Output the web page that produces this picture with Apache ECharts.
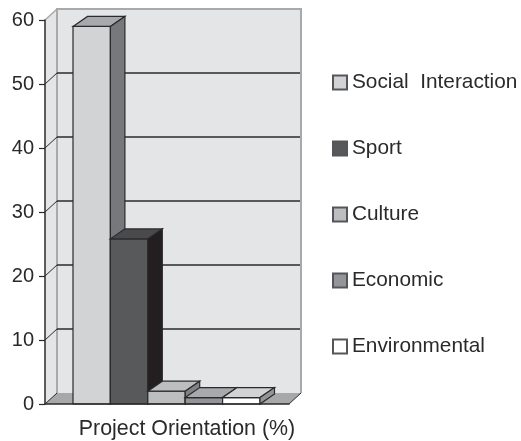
<!DOCTYPE html>
<html>
<head>
<meta charset="utf-8">
<style>
  html, body { margin: 0; padding: 0; background: #fff; }
  #chart { width: 521px; height: 441px; }
</style>
<script src="https://cdn.jsdelivr.net/npm/echarts@6/dist/echarts.min.js"></script>
</head>
<body>
<div id="chart"></div>
<script>
var categories = ["Project Orientation (%)"];
var seriesNames = ["Social  Interaction", "Sport", "Culture", "Economic", "Environmental"];
var seriesValues = [59, 25.8, 2, 1, 1];
var yTicks = [10, 20, 30, 40, 50];

var frontColors = ["#d1d3d4", "#58595b", "#bcbec0", "#939598", "#ffffff"];
var topColors = ["#a7a9ac", "#4a4a4c", "#bcbec0", "#a7a9ac", "#d1d3d4"];
var sideColors = ["#77787b", "#231f20", "#808285", "#6d6e71", "#939598"];

// 3d depth of the box, in pixels
var depthX = 14.5;
var depthY = 10;
var barWidth = 37.4;
var barShift = -0.5;
var wallX = 12;
var wallY = 11;
var inkColor = "#2b2a2b";
var wallEdge = "#a7a9ab";

function poly(points, fill, stroke, width) {
  return {
    type: "polygon",
    shape: { points: points },
    style: { fill: fill, stroke: stroke, lineWidth: width }
  };
}

function renderWall(params, api) {
  var cs = params.coordSys;
  var l = cs.x, r = cs.x + cs.width, t = cs.y, b = cs.y + cs.height;
  var children = [
    poly([[l, t], [l + wallX, t - wallY], [r + wallX, t - wallY], [r + wallX, b - wallY], [l + wallX, b - wallY], [l, b]], "#e4e5e7", "none", 0),
    poly([[l, b], [l + wallX, b - wallY], [r + wallX, b - wallY], [r, b]], "#a7a8aa", "none", 0),
    { type: "polyline", shape: { points: [[l + wallX, b - wallY], [l + wallX, t - wallY], [r + wallX, t - wallY], [r + wallX, b - wallY]] }, style: { fill: "none", stroke: wallEdge, lineWidth: 2 } },
    { type: "line", shape: { x1: l, y1: t, x2: l + wallX, y2: t - wallY }, style: { stroke: wallEdge, lineWidth: 1.5 } },
    { type: "line", shape: { x1: r, y1: b, x2: r + wallX, y2: b - wallY }, style: { stroke: inkColor, lineWidth: 1 } }
  ];
  yTicks.forEach(function (v) {
    var y = api.coord([0, v])[1];
    children.push({ type: "line", shape: { x1: l + wallX, y1: y - wallY, x2: r + wallX - 1, y2: y - wallY }, style: { stroke: inkColor, lineWidth: 1.6 } });
    children.push({ type: "line", shape: { x1: l, y1: y, x2: l + wallX, y2: y - wallY }, style: { stroke: inkColor, lineWidth: 1 } });
  });
  children.push({ type: "line", shape: { x1: l, y1: b, x2: l + wallX, y2: b - wallY }, style: { stroke: inkColor, lineWidth: 1 } });
  return { type: "group", children: children };
}

function renderBox(index) {
  return function (params, api) {
    var top = api.coord([0, api.value(1)]);
    var base = api.coord([0, 0]);
    var x0 = top[0] + barShift + (index - seriesNames.length / 2) * barWidth;
    var x1 = x0 + barWidth;
    var y0 = top[1], y1 = base[1];
    return {
      type: "group",
      children: [
        poly([[x0, y1], [x0, y0], [x1, y0], [x1, y1]], frontColors[index], inkColor, 1.2),
        poly([[x0, y0], [x0 + depthX, y0 - depthY], [x1 + depthX, y0 - depthY], [x1, y0]], topColors[index], inkColor, 1.2),
        poly([[x1, y0], [x1 + depthX, y0 - depthY], [x1 + depthX, y1 - depthY], [x1, y1]], sideColors[index], inkColor, 1.2)
      ]
    };
  };
}

var series = [{
  type: "custom",
  name: "wall",
  silent: true,
  clip: false,
  z: 1,
  data: [[0, 0]],
  renderItem: renderWall,
  animation: false
}];
seriesNames.forEach(function (name, i) {
  series.push({
    type: "custom",
    name: name,
    clip: false,
    z: 2 + i,
    data: [[0, seriesValues[i]]],
    itemStyle: { color: frontColors[i], borderColor: "#55565a", borderWidth: 1 },
    renderItem: renderBox(i),
    animation: false
  });
});

var chart = echarts.init(document.getElementById("chart"));
chart.setOption({
  backgroundColor: "#fff",
  animation: false,
  textStyle: { fontFamily: "Liberation Sans" },
  grid: { left: 45, top: 20, width: 244, height: 384 },
  legend: {
    data: seriesNames,
    orient: "vertical",
    left: 332,
    top: 72,
    padding: 0,
    itemWidth: 14,
    itemHeight: 14,
    itemGap: 45,
    icon: "rect",
    selectedMode: false,
    textStyle: { color: inkColor, fontSize: 20.8, fontFamily: "Liberation Sans" }
  },
  xAxis: {
    type: "category",
    data: categories,
    z: 20,
    axisLine: { lineStyle: { color: inkColor, width: 1.5 } },
    axisTick: { length: 6, lineStyle: { color: inkColor, width: 1.2 } },
    axisLabel: { color: inkColor, fontSize: 21.4, margin: 15, padding: [0, 0, 0, 40], interval: 0, hideOverlap: false }
  },
  yAxis: {
    type: "value",
    min: 0,
    max: 60,
    interval: 10,
    z: 20,
    axisLine: { show: true, lineStyle: { color: inkColor, width: 1.5 } },
    axisTick: { show: true, length: 6, lineStyle: { color: inkColor, width: 1.2 } },
    axisLabel: { color: inkColor, fontSize: 20, margin: 11 },
    splitLine: { show: false }
  },
  series: series
});
</script>
</body>
</html>
